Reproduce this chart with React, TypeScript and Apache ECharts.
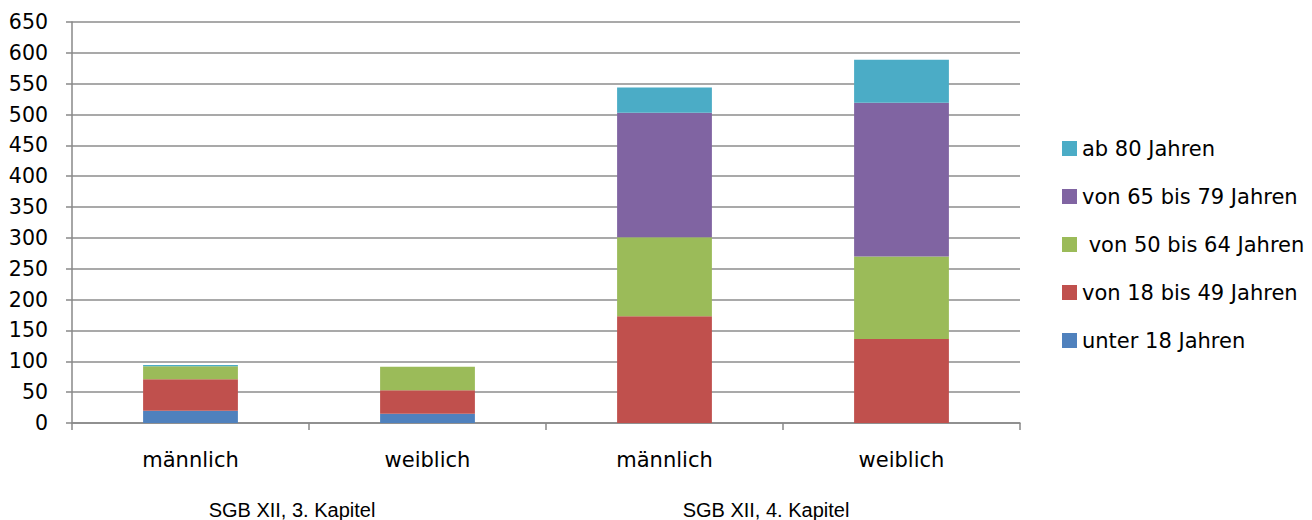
import React, { useEffect, useRef } from "react";
import * as echarts from "echarts";

const categories = ["männlich", "weiblich", "männlich", "weiblich"];
const groups = ["SGB XII, 3. Kapitel", "SGB XII, 4. Kapitel"];
const under18 = [20, 15, 0, 0];
const from18to49 = [51, 38, 173, 136];
const from50to64 = [21, 38, 128, 134];
const from65to79 = [0, 0, 202, 249];
const from80 = [2, 0, 41, 70];
const seriesNames = ["unter 18 Jahren", "von 18 bis 49 Jahren", " von 50 bis 64 Jahren", "von 65 bis 79 Jahren", "ab 80 Jahren"];
const seriesColors = ["#4F81BD", "#C0504D", "#9BBB59", "#8064A2", "#4BACC6"];
const seriesData = [under18, from18to49, from50to64, from65to79, from80];

const FONT = "DejaVu Sans";

export default function App() {
  const ref = useRef<HTMLDivElement>(null);
  useEffect(() => {
    if (!ref.current) return;
    const chart = echarts.init(ref.current, undefined, { renderer: "svg" });
    chart.setOption({
      animation: false,
      backgroundColor: "#ffffff",
      grid: { left: 72, right: 292, top: 22, bottom: 96.5, containLabel: false },
      legend: {
        orient: "vertical",
        left: 1057,
        top: 133,
        itemWidth: 15,
        itemHeight: 15,
        itemGap: 27,
        icon: "rect",
        data: [...seriesNames].reverse(),
        textStyle: { fontFamily: FONT, fontSize: 21, color: "#000", lineHeight: 21 },
      },
      xAxis: [
        {
          type: "category",
          data: categories,
          position: "bottom",
          axisLine: { lineStyle: { color: "#888888", width: 1.5 } },
          axisTick: { show: true, length: 7, lineStyle: { color: "#888888", width: 1.5 } },
          axisLabel: { fontFamily: FONT, fontSize: 21, color: "#000", margin: 26 },
          splitLine: { show: false },
        },
        {
          type: "category",
          data: groups,
          position: "bottom",
          axisLine: { show: false },
          axisTick: { show: false },
          axisLabel: {
            fontFamily: "Liberation Sans",
            fontSize: 20,
            color: "#000",
            margin: 77,
            padding: [0, 34, 0, 0],
          },
          splitLine: { show: false },
        },
      ],
      yAxis: {
        type: "value",
        min: 0,
        max: 650,
        interval: 50,
        axisLine: { show: true, lineStyle: { color: "#888888", width: 1.5 } },
        axisTick: { show: true, length: 6, lineStyle: { color: "#888888", width: 1.5 } },
        axisLabel: { fontFamily: FONT, fontSize: 20.5, color: "#000", margin: 24 },
        splitLine: { show: true, lineStyle: { color: "#8c8c8c", width: 1.5 } },
      },
      series: seriesNames.map((name, i) => ({
        name,
        type: "bar",
        stack: "total",
        xAxisIndex: 0,
        barWidth: "40%",
        data: seriesData[i],
        itemStyle: { color: seriesColors[i] },
      })),
    });
    return () => chart.dispose();
  }, []);
  return <div ref={ref} style={{ position: "fixed", left: 0, top: 0, width: 1312, height: 520 }} />;
}
